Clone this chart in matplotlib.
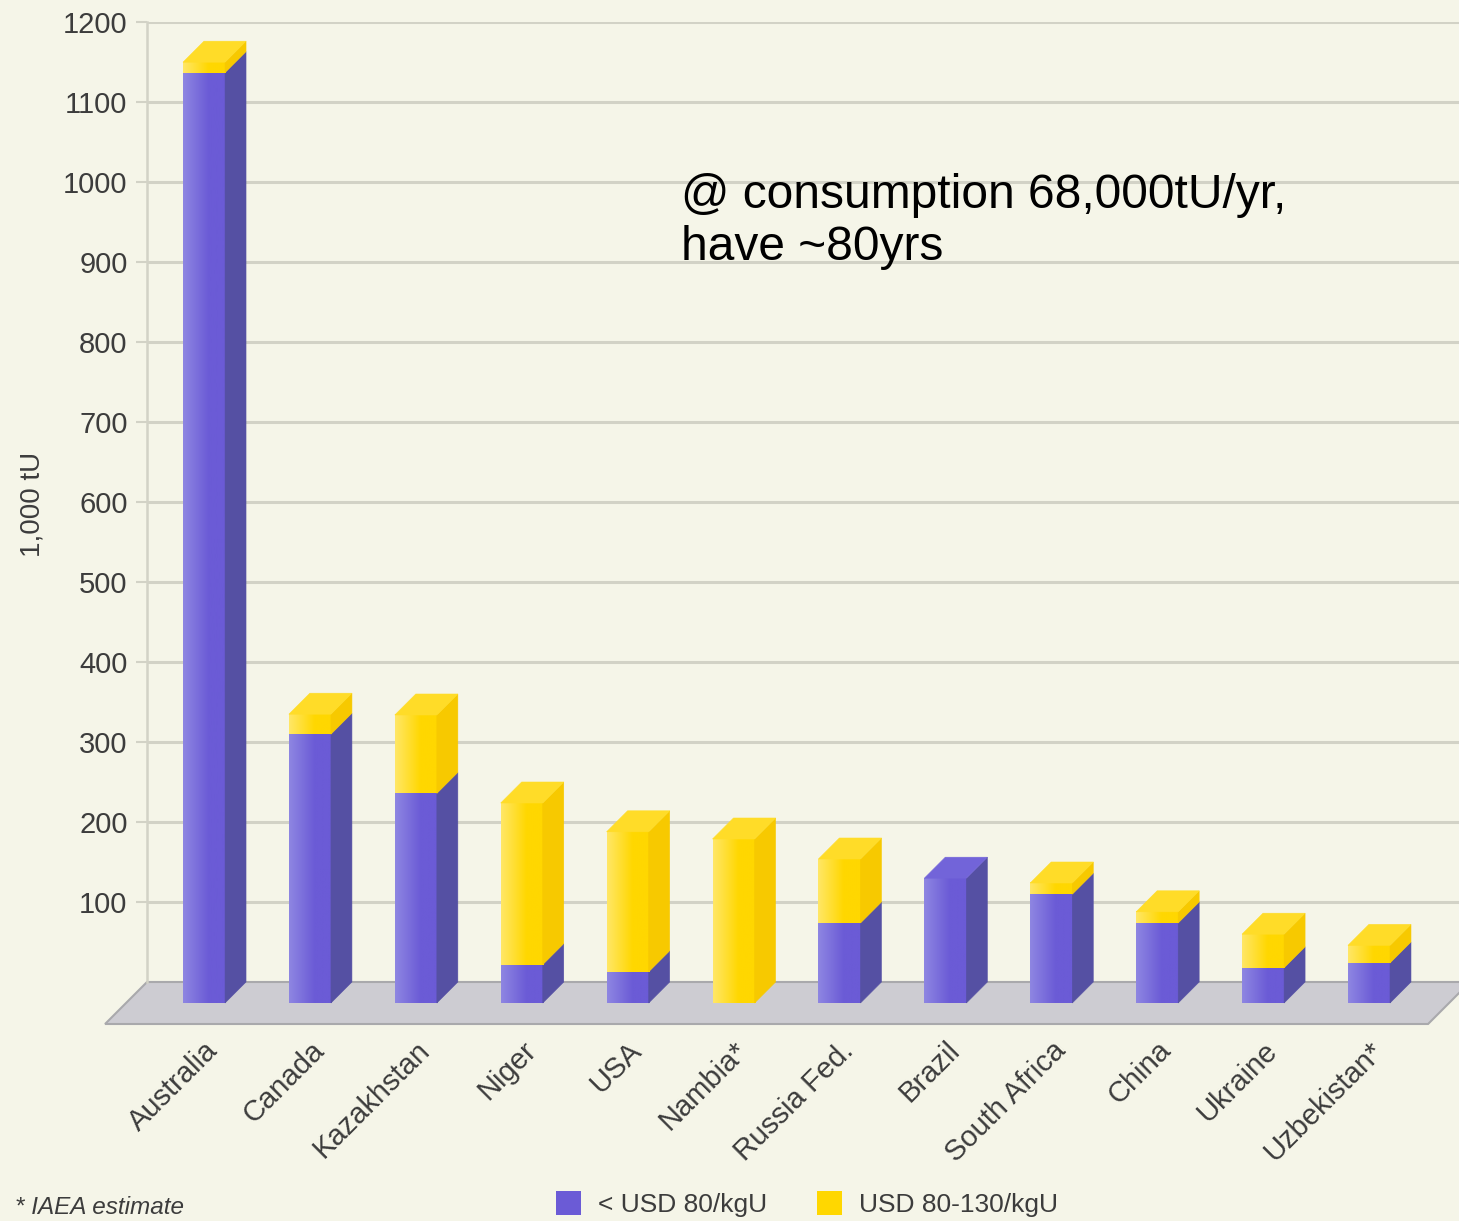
import matplotlib.pyplot as plt
import numpy as np
from matplotlib.colors import to_rgb
from matplotlib.patches import Polygon, Patch

plt.rcParams["font.family"] = ["Liberation Sans", "DejaVu Sans"]

# data (1,000 tU)
countries = ["Australia", "Canada", "Kazakhstan", "Niger", "USA", "Nambia*",
             "Russia Fed.", "Brazil", "South Africa", "China", "Ukraine", "Uzbekistan*"]
below_80 = [1163, 336, 262, 48, 39, 0, 100, 156, 136, 100, 44, 50]
from_80_to_130 = [13, 25, 98, 202, 175, 205, 80, 0, 14, 14, 42, 22]
y_ticks = [100, 200, 300, 400, 500, 600, 700, 800, 900, 1000, 1100, 1200]
series_names = ["< USD 80/kgU", "USD 80-130/kgU"]

# colours
BG = "#f5f5e8"
GRID = "#d2d2c6"
FLOOR = "#cdccd2"
FLOOR_EDGE = "#a9a9ac"
PURPLE = {"light": "#8e86e2", "base": "#6b5bd6", "side": "#5550a3", "top": "#7264d9"}
YELLOW = {"light": "#ffe766", "base": "#ffd700", "side": "#f7c900", "top": "#ffdc28"}

# fake 3d geometry
W = 0.397      # front face width (category units)
DX = 0.198     # depth shift in x
DY = 26.25     # depth shift in y (value units)


def gradient(light, base, n=64, knee=0.6):
    a = np.array(to_rgb(light))
    b = np.array(to_rgb(base))
    t = np.clip(np.linspace(0, 1, n) / knee, 0, 1)
    return (a + (b - a) * t[:, None])[None, :, :]


def draw_block(ax, i, lo, hi, pal, with_top):
    x0 = i - DX - W / 2
    x1 = x0 + W
    im = ax.imshow(gradient(pal["light"], pal["base"]),
                   extent=(x0, x1, lo - DY, hi - DY),
                   aspect="auto", interpolation="bilinear", zorder=3)
    im.set_clip_on(False)

    side = Polygon([(x1, lo - DY), (x1 + DX, lo), (x1 + DX, hi), (x1, hi - DY)],
                   closed=True, facecolor=pal["side"], edgecolor=pal["side"],
                   linewidth=0.4, zorder=3, clip_on=False)
    ax.add_patch(side)

    if with_top:
        top = Polygon([(x0, hi - DY), (x1, hi - DY), (x1 + DX, hi), (x0 + DX, hi)],
                      closed=True, facecolor=pal["top"], edgecolor=pal["top"],
                      linewidth=0.4, zorder=3, clip_on=False)
        ax.add_patch(top)


fig = plt.figure(figsize=(14.59, 12.21), dpi=100, facecolor=BG)
ax = fig.add_axes([147 / 1459, 239 / 1221, 1312 / 1459, 960 / 1221])
ax.set_facecolor(BG)

x_left, x_right = -0.7365, 11.652
floor_right = 11.36

# floor
floor = Polygon([(x_left, 0), (floor_right + 2 * DX, 0),
                 (floor_right, -2 * DY), (x_left - 2 * DX, -2 * DY)],
                closed=True, facecolor=FLOOR, edgecolor=FLOOR_EDGE,
                linewidth=1.5, zorder=1, clip_on=False)
ax.add_patch(floor)

# bars
for i in range(len(countries)):
    lo = below_80[i]
    hi = below_80[i] + from_80_to_130[i]
    if lo > 0:
        draw_block(ax, i, 0, lo, PURPLE, with_top=(hi == lo))
    if hi > lo:
        draw_block(ax, i, lo, hi, YELLOW, with_top=True)

ax.set_xlim(x_left, x_right)
ax.set_ylim(0, 1200)

# axes styling
for s in ["top", "right", "bottom"]:
    ax.spines[s].set_visible(False)
ax.spines["left"].set_color(GRID)
ax.spines["left"].set_linewidth(1.8)

ax.set_yticks(y_ticks)
ax.set_yticklabels([str(v) for v in y_ticks])
ax.tick_params(axis="y", length=8, width=1.5, color=GRID, pad=6,
               labelsize=21, labelcolor="#3c3c3c")
ax.yaxis.grid(True, color=GRID, linewidth=2.2)
ax.set_axisbelow(True)

ax.set_xticks([i - DX for i in range(len(countries))])
ax.set_xticklabels(countries, rotation=45, ha="right", rotation_mode="anchor")
ax.tick_params(axis="x", length=0, pad=39, labelsize=21, labelcolor="#3c3c3c")

ax.set_ylabel("1,000 tU", fontsize=20, color="#3c3c3c")
ax.yaxis.set_label_coords(-0.077, 0.497)

# note
fig.text(681 / 1459, 1 - 173 / 1221, "@ consumption 68,000tU/yr,\nhave ~80yrs",
         ha="left", va="top", fontsize=34.5, color="black", linespacing=1.2)

# legend and footnote
handles = [Patch(facecolor=PURPLE["base"]), Patch(facecolor=YELLOW["base"])]
fig.legend(handles, series_names, loc="center", bbox_to_anchor=(807 / 1459, 1 - 1204 / 1221),
           ncol=2, frameon=False, fontsize=19, handlelength=0.95, handleheight=1.05,
           handletextpad=0.65, columnspacing=1.9, labelcolor="#3c3c3c")

fig.text(15 / 1459, 1 - 1207 / 1221, "* IAEA estimate", style="italic",
         ha="left", va="center", fontsize=17.5, color="#3c3c3c")

fig.savefig("out.png", dpi=100, facecolor=BG)
